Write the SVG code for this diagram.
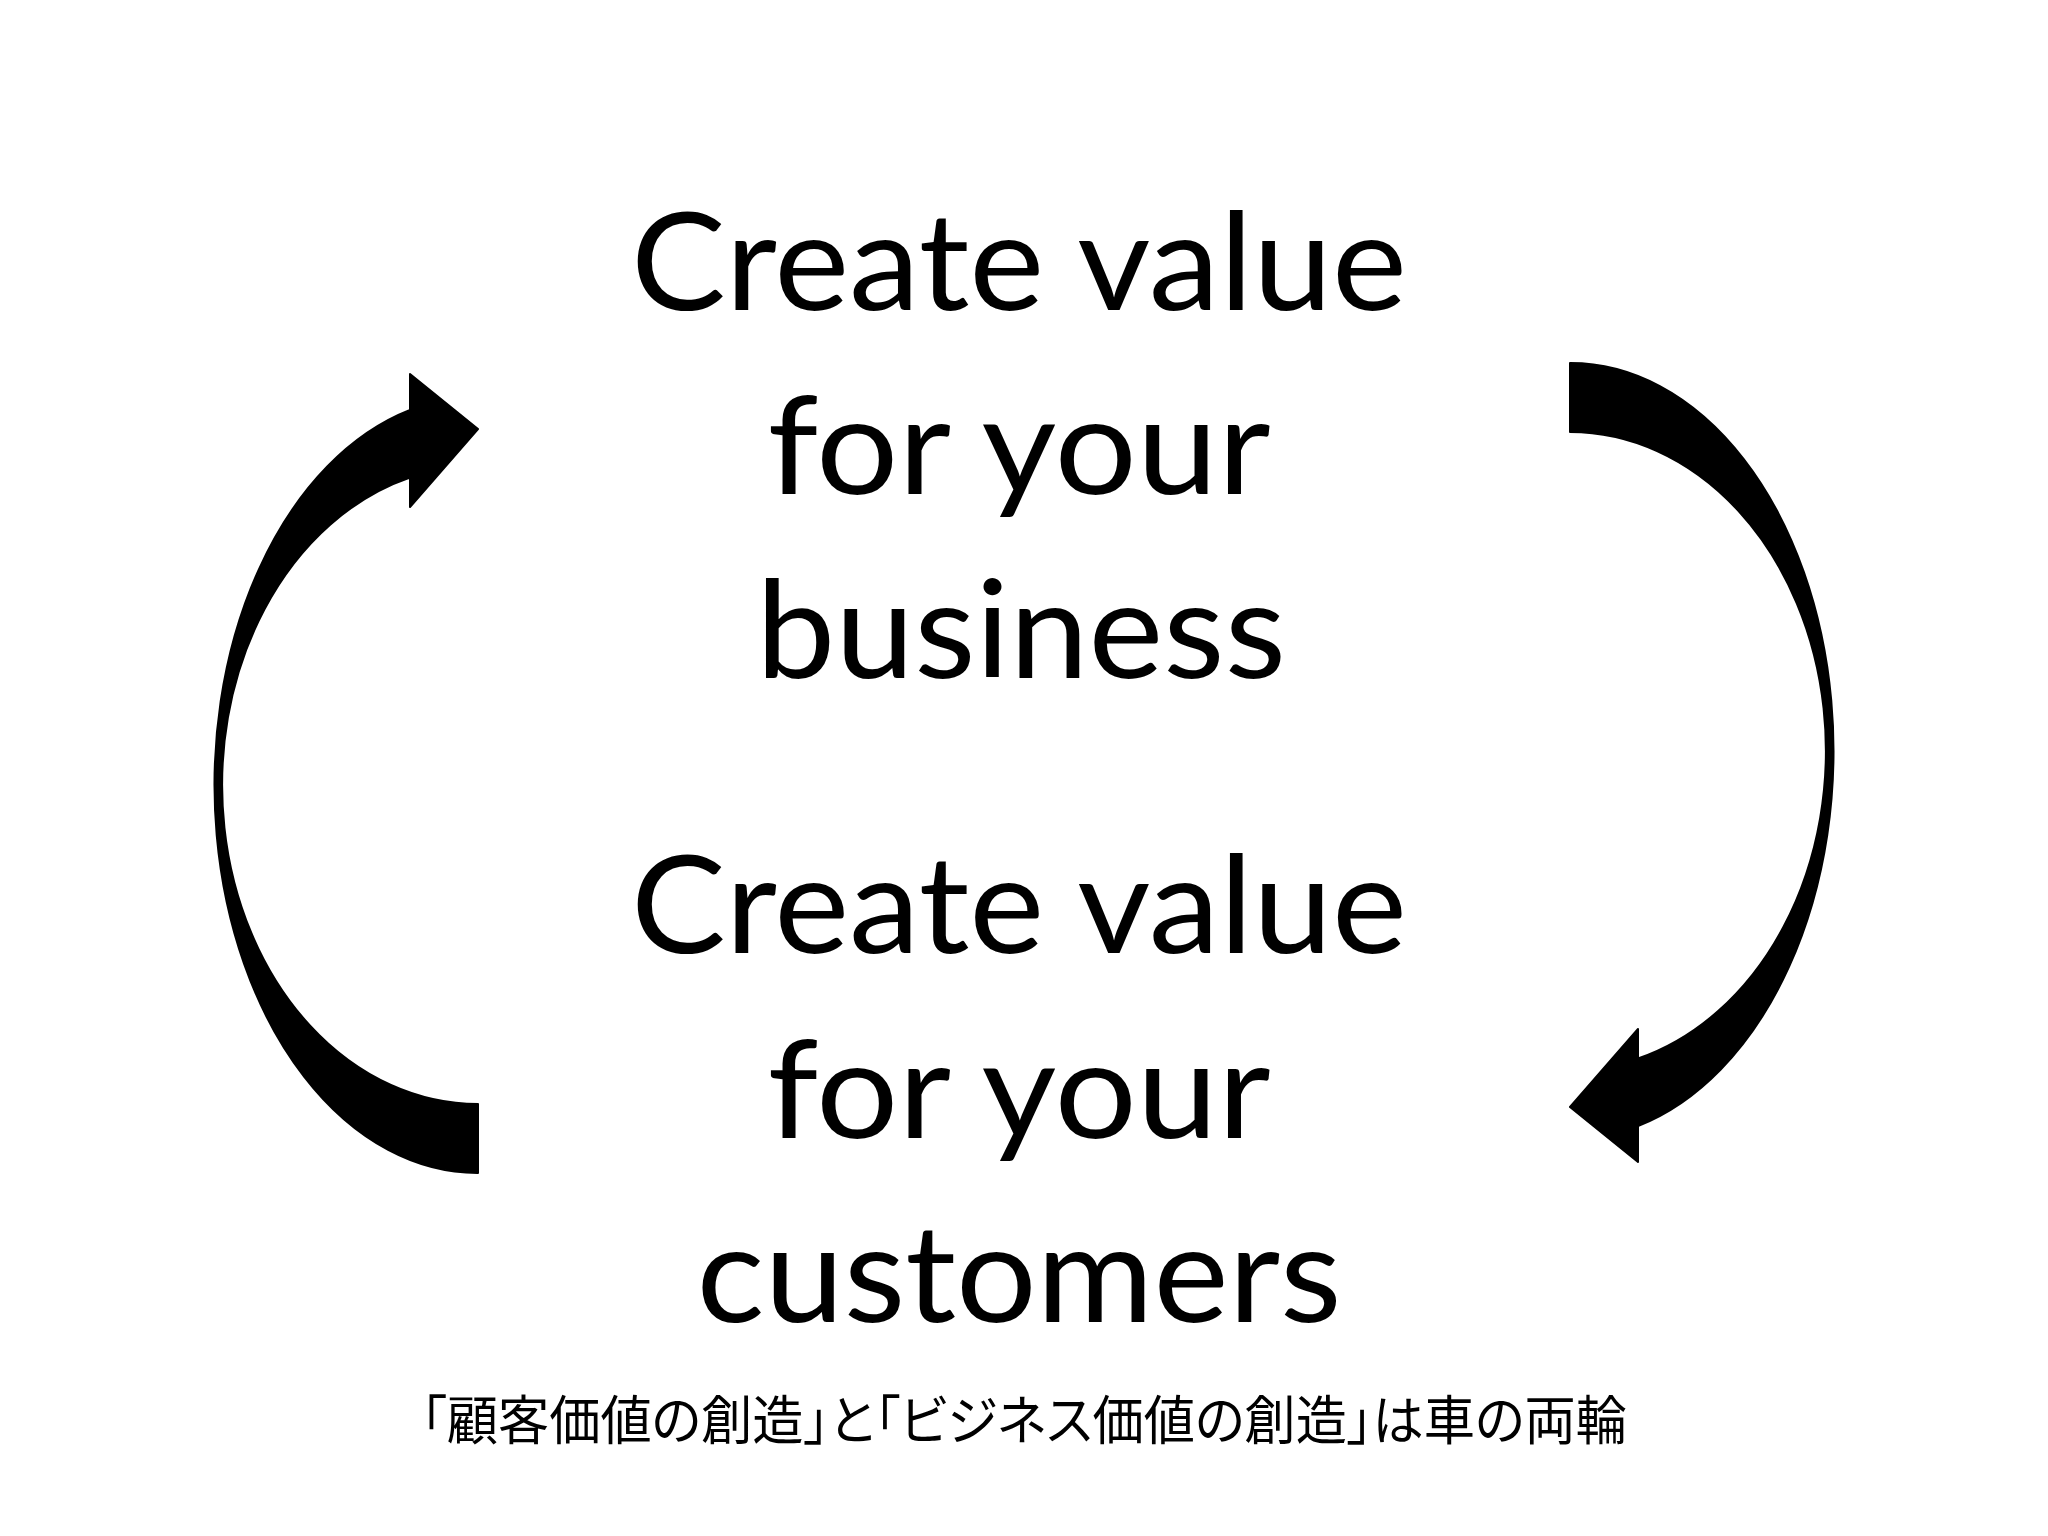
<svg xmlns="http://www.w3.org/2000/svg" xmlns:xlink="http://www.w3.org/1999/xlink" width="2048" height="1536" viewBox="0 0 2048 1536">
  <style>
    .big { font-family: Lato, "Open Sans", "Liberation Sans", sans-serif; font-size: 136px; fill: #000; text-anchor: middle; }
    .cap { font-family: "Noto Sans CJK JP", "Noto Sans", sans-serif; font-size: 53px; fill: #000; text-anchor: middle; font-feature-settings: "palt"; }
    .arrow { fill: #000; stroke: #000; stroke-width: 2; stroke-linejoin: round; }
  </style>
  <defs>
    <path id="curvedArrow" class="arrow" d="M478,1173 A263,388 0 0 1 410,410 L410,374 L478,429 L410,507 L410,477.5 A256,319 0 0 0 478,1104 Z"/>
  </defs>
  <rect x="0" y="0" width="2048" height="1536" fill="#fff"/>

  <g id="connectors">
    <use id="arrow-left" xlink:href="#curvedArrow"/>
    <use id="arrow-right" xlink:href="#curvedArrow" transform="rotate(180 1024 768)"/>
  </g>

  <g id="node-business">
    <text class="big" x="1019" y="310" textLength="776" lengthAdjust="spacingAndGlyphs">Create value</text>
    <text class="big" x="1019" y="494" textLength="503" lengthAdjust="spacingAndGlyphs">for your</text>
    <text class="big" x="1021" y="678" textLength="530" lengthAdjust="spacingAndGlyphs">business</text>
  </g>

  <g id="node-customers">
    <text class="big" x="1019" y="953" textLength="776" lengthAdjust="spacingAndGlyphs">Create value</text>
    <text class="big" x="1019" y="1138" textLength="503" lengthAdjust="spacingAndGlyphs">for your</text>
    <text class="big" x="1019" y="1322" textLength="645" lengthAdjust="spacingAndGlyphs">customers</text>
  </g>

  <g id="caption">
    <text class="cap" x="1024" y="1440" textLength="1206" lengthAdjust="spacingAndGlyphs">「顧客価値の創造」と「ビジネス価値の創造」は車の両輪</text>
  </g>
</svg>
